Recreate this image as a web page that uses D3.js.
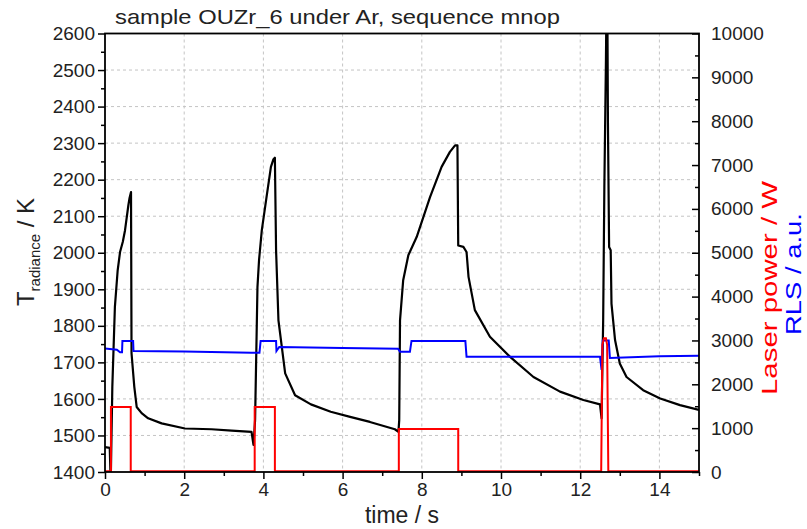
<!DOCTYPE html>
<html><head><meta charset="utf-8">
<script src="https://cdn.jsdelivr.net/npm/d3@7/dist/d3.min.js"></script>
<style>body{margin:0;background:#fff} text{font-family:"Liberation Sans",Arial,sans-serif;fill:#222}</style>
</head><body><svg id="c" width="807" height="529"></svg>
<script>
const titleText = "sample OUZr_6 under Ar, sequence mnop";
const xTicks = [0,2,4,6,8,10,12,14];
const tempTicks = [1400,1500,1600,1700,1800,1900,2000,2100,2200,2300,2400,2500,2600];
const rightTicks = [0,1000,2000,3000,4000,5000,6000,7000,8000,9000,10000];

const tempTime = [0,0.12,0.14,0.15,0.185,0.25,0.32,0.38,0.45,0.505,0.59,0.62,0.657,0.67,0.74,0.80,0.925,1.09,1.43,2.02,2.69,3.2,3.70,3.75,
 3.79,3.85,3.89,3.96,4.08,4.19,4.25,4.29,4.32,4.38,4.55,4.80,5.2,5.7,6.19,6.69,7.32,7.41,
 7.43,7.45,7.53,7.66,7.87,8.21,8.50,8.71,8.84,8.90,8.92,9.05,9.13,9.18,9.34,9.72,10.23,10.82,11.49,12.08,12.5,12.54,
 12.58,12.61,12.65,12.665,12.685,12.70,12.73,12.77,12.79,12.88,13.0,13.17,13.59,14.02,14.52,15];
const tempValue = [1468,1466,1390,1405,1633,1852,1952,2002,2030,2061,2130,2150,2166,1725,1633,1578,1561,1547,1533,1519,1517,1513,1510,1474,
 1542,1906,1980,2062,2153,2235,2255,2260,2007,1815,1670,1610,1585,1565,1551,1537,1517,1510,
 1542,1815,1925,1993,2043,2153,2235,2276,2294,2294,2020,2016,2002,1934,1843,1770,1715,1660,1620,1597,1585,1547,
 1815,2180,2527,2700,2700,2360,2016,2007,1861,1761,1697,1660,1624,1601,1583,1570];

const rlsTime = [0,0.3,0.38,0.43,0.44,0.71,0.72,2,3.7,3.9,3.93,4.32,4.33,4.4,6,7.4,7.45,7.7,7.74,9.1,9.13,11,12.5,12.54,12.57,12.72,12.75,14,15];
const rlsValue = [2818,2790,2730,2730,2990,2990,2760,2750,2720,2720,2990,2990,2760,2850,2830,2810,2740,2740,2990,2990,2630,2630,2630,2330,3000,3000,2600,2640,2650];

const laserTime = [0,0.15,0.15,0.65,0.65,3.78,3.78,4.29,4.29,7.42,7.42,8.92,8.92,12.53,12.56,12.6,12.65,12.68,12.71,15];
const laserValue = [15,15,1480,1480,15,15,1480,1480,15,15,980,980,15,15,2900,3050,3050,2900,15,15];

const svg = d3.select("#c");
const L=105, R=699, T=33.5, B=472;
const x = d3.scaleLinear().domain([0,15]).range([L,R]);
const yT = d3.scaleLinear().domain([1400,2600]).range([B,T]);
const yR = d3.scaleLinear().domain([0,10000]).range([B,T]);

svg.append("defs").append("clipPath").attr("id","clip").append("rect")
  .attr("x",L).attr("y",T).attr("width",R-L).attr("height",B-T);

// grid
const g = svg.append("g").attr("stroke","#c4c4c4").attr("stroke-dasharray","3,3").attr("stroke-width",1);
xTicks.filter(d=>d>0).forEach(d=>g.append("line").attr("x1",x(d)).attr("x2",x(d)).attr("y1",T).attr("y2",B));
tempTicks.filter(d=>d>1400&&d<2600).forEach(d=>g.append("line").attr("x1",L).attr("x2",R).attr("y1",yT(d)).attr("y2",yT(d)));

const plot = svg.append("g").attr("clip-path","url(#clip)");
const lineT = d3.line().x(i=>x(tempTime[i])).y(i=>yT(tempValue[i]));
const lineB = d3.line().x(i=>x(rlsTime[i])).y(i=>yR(rlsValue[i]));
const lineL = d3.line().x(i=>x(laserTime[i])).y(i=>yR(laserValue[i]));
plot.append("path").attr("d",lineT(d3.range(tempTime.length))).attr("fill","none").attr("stroke","#000").attr("stroke-width",2.2).attr("stroke-linejoin","round");
plot.append("path").attr("d",lineB(d3.range(rlsTime.length))).attr("fill","none").attr("stroke","#0000ff").attr("stroke-width",2);
plot.append("path").attr("d",lineL(d3.range(laserTime.length))).attr("fill","none").attr("stroke","#ff0000").attr("stroke-width",2);

// axes
const fs = "19px";
const axL = d3.axisLeft(yT).tickValues(tempTicks).tickSize(7).tickPadding(3).tickFormat(d3.format("d"));
const gl = svg.append("g").attr("transform",`translate(${L},0)`).call(axL);
const axLm = d3.axisLeft(yT).tickValues(d3.range(1450,2600,100)).tickSize(4).tickFormat("");
svg.append("g").attr("transform",`translate(${L},0)`).call(axLm);
const axR = d3.axisLeft(yR).tickValues(rightTicks).tickSize(7).tickFormat("");
svg.append("g").attr("transform",`translate(${R},0)`).call(axR);
const axRm = d3.axisLeft(yR).tickValues(d3.range(500,10000,1000)).tickSize(4).tickFormat("");
svg.append("g").attr("transform",`translate(${R},0)`).call(axRm);
const axRl = d3.axisRight(yR).tickValues(rightTicks).tickSize(0).tickPadding(12).tickFormat(d3.format("d"));
const gr = svg.append("g").attr("transform",`translate(${R},0)`).call(axRl);
const axB = d3.axisBottom(x).tickValues(xTicks).tickSize(7).tickPadding(4).tickFormat(d3.format("d"));
const gb = svg.append("g").attr("transform",`translate(0,${B})`).call(axB);
const axBm = d3.axisBottom(x).tickValues([1,3,5,7,9,11,13,15]).tickSize(4).tickFormat("");
svg.append("g").attr("transform",`translate(0,${B})`).call(axBm);
svg.selectAll(".domain").remove();
svg.selectAll(".tick line").attr("stroke","#000").attr("stroke-width",1.5);
svg.selectAll(".tick text").attr("font-size",fs).attr("fill","#222").style("font-family",'"Liberation Sans",Arial,sans-serif');
gr.selectAll(".tick line").remove();

// frame
svg.append("rect").attr("x",L).attr("y",T).attr("width",R-L).attr("height",B-T).attr("fill","none").attr("stroke","#000").attr("stroke-width",1.8);

// titles
svg.append("text").attr("x",115).attr("y",24).attr("font-size","21px").attr("textLength",445).attr("lengthAdjust","spacingAndGlyphs").text(titleText);
svg.append("text").attr("x",x(7.5)).attr("y",523).attr("text-anchor","middle").attr("font-size","23px").text("time / s");
const yl = svg.append("text").attr("transform","translate(34,252) rotate(-90)").attr("text-anchor","middle").attr("font-size","24px");
yl.append("tspan").text("T");
yl.append("tspan").attr("font-size","15px").attr("dy",6).text("radiance");
yl.append("tspan").attr("dy",-6).text(" / K");
svg.append("text").attr("transform","translate(777,288) rotate(-90)").attr("text-anchor","middle").attr("font-size","22px").attr("textLength",214).attr("lengthAdjust","spacingAndGlyphs").style("fill","#ff0000").text("Laser power / W");
svg.append("text").attr("transform","translate(801,274) rotate(-90)").attr("text-anchor","middle").attr("font-size","22px").attr("textLength",122).attr("lengthAdjust","spacingAndGlyphs").style("fill","#0000ff").text("RLS / a.u.");
</script></body></html>
